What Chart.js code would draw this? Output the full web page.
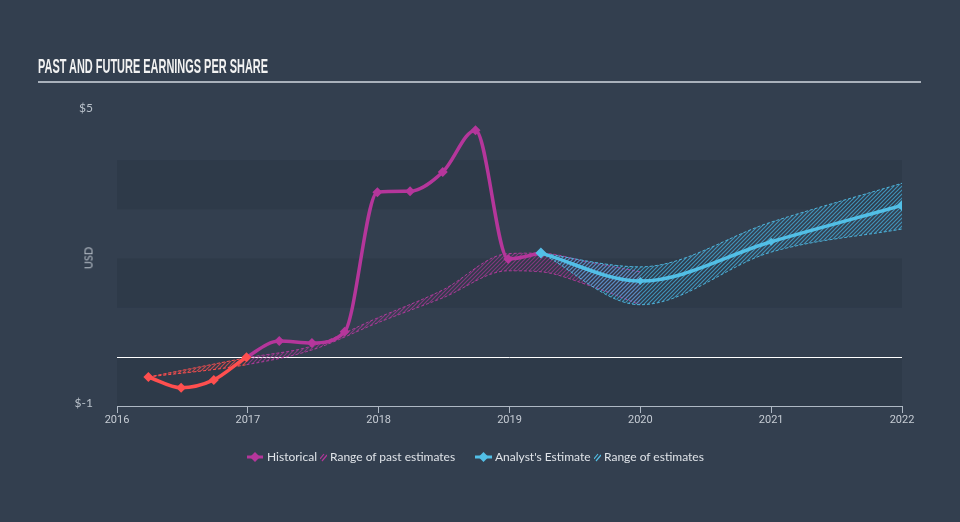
<!DOCTYPE html>
<html>
<head>
<meta charset="utf-8">
<script src="https://cdn.jsdelivr.net/npm/chart.js@4"></script>
<style>
  body { margin: 0; background: #333f4f; width: 960px; height: 522px; overflow: hidden; position: relative; font-family: Lato, Roboto, sans-serif; }
  #c { position: absolute; left: 0; top: 0; }
  #title { position: absolute; left: 38px; top: 55px; font: bold 19.5px "Liberation Sans", Arial, sans-serif; color: #f2f2f2; transform-origin: 0 0; white-space: nowrap; }
  #rule { position: absolute; left: 38px; top: 81px; width: 883px; height: 2px; background: #a9b1bb; }
  #usd { position: absolute; left: 88px; top: 258px; transform: translate(-50%, -50%) rotate(-90deg); color: #b5bdc6; font-size: 11px; }
  .lg { position: absolute; top: 449px; height: 16px; line-height: 16px; color: #dfe3e8; font-size: 12px; white-space: nowrap; }
  .lg svg { display: block; margin-top: 3px; }
</style>
</head>
<body>
<canvas id="c" width="960" height="522"></canvas>
<div id="title">PAST AND FUTURE EARNINGS PER SHARE</div>
<div id="rule"></div>
<div id="usd">USD</div>

<div class="lg" style="left:247px"><svg width="16" height="10"><line x1="0" y1="5" x2="16" y2="5" stroke="#b5369b" stroke-width="3"/><polygon points="8,0 13,5 8,10 3,5" fill="#b5369b"/></svg></div>
<div class="lg" style="left:267px">Historical</div>
<div class="lg" style="left:320px"><svg width="7" height="10"><g stroke="#b5369b" stroke-width="1.2"><line x1="0" y1="7" x2="4" y2="2"/><line x1="2" y1="9" x2="7" y2="3"/></g></svg></div>
<div class="lg" style="left:330px">Range of past estimates</div>
<div class="lg" style="left:475px"><svg width="17" height="10"><line x1="0" y1="5" x2="17" y2="5" stroke="#52bfe6" stroke-width="3"/><polygon points="8.5,0 13.5,5 8.5,10 3.5,5" fill="#52bfe6"/></svg></div>
<div class="lg" style="left:495px">Analyst's Estimate</div>
<div class="lg" style="left:594px"><svg width="7" height="10"><g stroke="#52bfe6" stroke-width="1.2"><line x1="0" y1="7" x2="4" y2="2"/><line x1="2" y1="9" x2="7" y2="3"/></g></svg></div>
<div class="lg" style="left:604px">Range of estimates</div>

<script>
// data (years as decimals, EPS in USD)
const histYears = [2016.24, 2016.49, 2016.74, 2016.99, 2017.24, 2017.49, 2017.74, 2017.99, 2018.24, 2018.49, 2018.74, 2018.99, 2019.24];
const histEps = [-0.41, -0.63, -0.47, -0.01, 0.32, 0.28, 0.51, 3.35, 3.37, 3.76, 4.61, 1.99, 2.11];

const pastRangeYears = [2016.24, 2016.99, 2017.49, 2017.99, 2018.49, 2018.99, 2019.24, 2019.6, 2020.0];
const pastHigh = [-0.41, -0.02, 0.22, 0.79, 1.36, 2.1, 2.11, 1.93, 1.73];
const pastLow = [-0.41, -0.16, 0.14, 0.69, 1.2, 1.75, 1.73, 1.46, 1.06];

const estYears = [2019.24, 2020, 2021, 2022];
const estEps = [2.11, 1.54, 2.34, 3.08];
const estHigh = [2.11, 1.83, 2.74, 3.53];
const estLow = [2.11, 1.06, 2.13, 2.6];

const yearTicks = [2016, 2017, 2018, 2019, 2020, 2021, 2022];
const epsTicks = [-1, 0, 1, 2, 3, 4, 5];
const epsLabels = [-1, 5];

const magenta = "#b5369b";
const red = "#ff4f4f";
const blue = "#52bfe6";

// squeeze the title to the condensed width of the original
const title = document.getElementById("title");
title.style.transform = "scaleX(" + (230 / title.getBoundingClientRect().width) + ")";

const canvas = document.getElementById("c");
const ctx2d = canvas.getContext("2d");

function hatch(color) {
  const c = document.createElement("canvas");
  c.width = 4;
  c.height = 4;
  const g = c.getContext("2d");
  g.strokeStyle = color;
  g.lineWidth = 1.2;
  g.beginPath();
  g.moveTo(0, 4); g.lineTo(4, 0);
  g.moveTo(-1, 1); g.lineTo(1, -1);
  g.moveTo(3, 5); g.lineTo(5, 3);
  g.stroke();
  return ctx2d.createPattern(c, "repeat");
}
const pastHatch = hatch("rgba(185,55,160,0.6)");
const redHatch = hatch("rgba(255,80,80,0.7)");
const blueHatch = hatch("rgba(70,175,220,0.75)");

const pts = (xs, ys) => xs.map((x, i) => ({ x: x, y: ys[i] }));
const negRed = (c) => (c.p1.parsed.y < 0 ? red : undefined);
const negRedHatch = (c) => (c.p1.parsed.y < 0 ? redHatch : undefined);

// darker horizontal bands behind the plot, plus the zero line
const bands = {
  id: "bands",
  beforeDatasetsDraw(chart) {
    const { ctx, chartArea, scales } = chart;
    ctx.save();
    ctx.fillStyle = "#2e3a49";
    [[-1, 0], [1, 2], [3, 4]].forEach(([a, b]) => {
      const y1 = scales.y.getPixelForValue(b);
      const y2 = scales.y.getPixelForValue(a);
      ctx.fillRect(chartArea.left, y1, chartArea.right - chartArea.left, y2 - y1);
    });
    const y0 = Math.round(scales.y.getPixelForValue(0)) + 0.5;
    ctx.strokeStyle = "#ffffff";
    ctx.lineWidth = 1;
    ctx.beginPath();
    ctx.moveTo(chartArea.left, y0);
    ctx.lineTo(chartArea.right, y0);
    ctx.stroke();
    ctx.restore();
  },
};

new Chart(canvas, {
  type: "line",
  data: {
    datasets: [
      {
        label: "Range of past estimates",
        data: pts(pastRangeYears, pastHigh),
        borderColor: "rgba(190,60,165,0.85)",
        borderWidth: 1,
        borderDash: [3, 2],
        backgroundColor: pastHatch,
        fill: "+1",
        pointRadius: 0,
        cubicInterpolationMode: "monotone",
        segment: { borderColor: negRed, backgroundColor: negRedHatch },
        order: 3,
      },
      {
        label: "past low",
        data: pts(pastRangeYears, pastLow),
        borderColor: "rgba(190,60,165,0.85)",
        borderWidth: 1,
        borderDash: [3, 2],
        fill: false,
        pointRadius: 0,
        cubicInterpolationMode: "monotone",
        segment: { borderColor: negRed },
        order: 3,
      },
      {
        label: "Range of estimates",
        data: pts(estYears, estHigh),
        borderColor: "rgba(82,190,230,0.9)",
        borderWidth: 1,
        borderDash: [3, 2],
        backgroundColor: blueHatch,
        fill: "+1",
        pointRadius: 0,
        cubicInterpolationMode: "monotone",
        order: 2,
      },
      {
        label: "est low",
        data: pts(estYears, estLow),
        borderColor: "rgba(82,190,230,0.9)",
        borderWidth: 1,
        borderDash: [3, 2],
        fill: false,
        pointRadius: 0,
        cubicInterpolationMode: "monotone",
        order: 2,
      },
      {
        label: "Historical",
        data: pts(histYears, histEps),
        borderColor: magenta,
        borderWidth: 3.5,
        pointStyle: "rectRot",
        pointRadius: 5,
        pointBorderWidth: 0,
        pointBackgroundColor: (c) => (c.raw && c.raw.y < 0 ? red : magenta),
        pointBorderColor: (c) => (c.raw && c.raw.y < 0 ? red : magenta),
        cubicInterpolationMode: "monotone",
        segment: { borderColor: negRed },
        fill: false,
        order: 1,
      },
      {
        label: "Analyst's Estimate",
        data: pts(estYears, estEps),
        borderColor: blue,
        borderWidth: 3.5,
        pointStyle: "rectRot",
        pointRadius: [5.5, 4, 4, 5.5],
        pointBorderWidth: 0,
        pointBackgroundColor: blue,
        pointBorderColor: blue,
        cubicInterpolationMode: "monotone",
        fill: false,
        order: 0,
      },
    ],
  },
  options: {
    responsive: false,
    animation: false,
    layout: { padding: { left: 0, right: 58, top: 111, bottom: 0 } },
    plugins: { legend: { display: false }, tooltip: { enabled: false } },
    scales: {
      x: {
        type: "linear",
        min: 2016,
        max: 2022,
        afterBuildTicks: (s) => { s.ticks = yearTicks.map((v) => ({ value: v })); },
        afterFit: (s) => { s.height = 116; },
        ticks: {
          callback: (v) => String(v),
          color: "#c6ccd4",
          font: { family: "Roboto, sans-serif", size: 11 },
          padding: 1,
          maxRotation: 0,
          autoSkip: false,
        },
        grid: { drawOnChartArea: false, drawTicks: true, tickLength: 7, color: "#aeb8c4" },
        border: { color: "#aeb8c4", width: 1 },
      },
      y: {
        min: -1,
        max: 5,
        afterBuildTicks: (s) => { s.ticks = epsTicks.map((v) => ({ value: v })); },
        afterFit: (s) => { s.width = 117; },
        ticks: {
          callback: (v) => (epsLabels.includes(v) ? "$" + v : ""),
          color: "#b9c1ca",
          font: { family: "Lato, Roboto, sans-serif", size: 12 },
          padding: 16,
          labelOffset: -3,
        },
        grid: { display: false },
        border: { display: false },
      },
    },
  },
  plugins: [bands],
});
</script>
</body>
</html>
